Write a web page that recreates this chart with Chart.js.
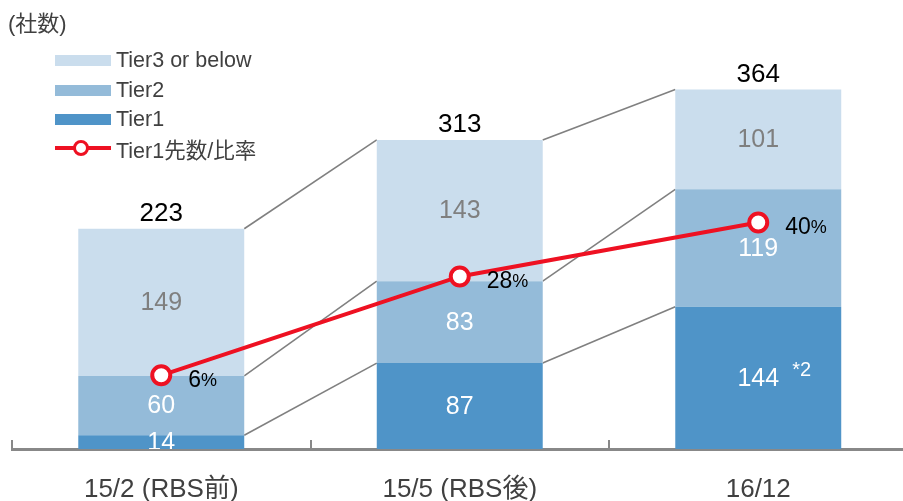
<!DOCTYPE html>
<html>
<head>
<meta charset="utf-8">
<script src="https://cdn.jsdelivr.net/npm/chart.js@4"></script>
<style>
html, body { margin: 0; padding: 0; overflow: hidden; background: #fff; }
body { font-family: "Liberation Sans", Arial, "Noto Sans CJK JP", sans-serif; }
#chart { position: absolute; left: 0; top: 0; }
#unit { position: absolute; left: 8px; top: 5px; font-size: 22px; color: #404040; }
.lg { position: absolute; left: 55px; height: 24px; display: flex; align-items: center; font-size: 21.5px; color: #404040; }
.sw { width: 56px; height: 11px; margin-right: 5px; }
.ln { width: 56px; height: 24px; margin-right: 5px; position: relative; }
.ln .bar { position: absolute; left: 0; right: 0; top: 10px; height: 4px; background: #ee1122; }
.ln .dot { position: absolute; left: 18px; top: 4px; width: 10px; height: 10px; border: 3px solid #ee1122; border-radius: 50%; background: #fff; }
</style>
</head>
<body>
<canvas id="chart" width="910" height="501"></canvas>
<div id="unit">(社数)</div>
<div class="lg" style="top:48px"><div class="sw" style="background:#cadded"></div>Tier3 or below</div>
<div class="lg" style="top:78px"><div class="sw" style="background:#94bbd9"></div>Tier2</div>
<div class="lg" style="top:107px"><div class="sw" style="background:#4f94c8"></div>Tier1</div>
<div class="lg" style="top:136px"><div class="ln"><div class="bar"></div><div class="dot"></div></div>Tier1先数/比率</div>
<script>
const categories = ['15/2 (RBS前)', '15/5 (RBS後)', '16/12'];
const tier1 = [14, 87, 144];
const tier2 = [60, 83, 119];
const tier3 = [149, 143, 101];
const totals = [223, 313, 364];
const tier1Ratio = [6, 28, 40];
const tier1Notes = ['', '', '*2'];

const FONT = '"Liberation Sans", Arial, "Noto Sans CJK JP", sans-serif';

// grey connectors between bars + small ticks on the axis
const connectors = {
  id: 'connectors',
  beforeDatasetsDraw(chart) {
    const ctx = chart.ctx;
    const stacks = [0, 1, 2].map(i => chart.getDatasetMeta(i).data);
    ctx.save();
    ctx.strokeStyle = '#808080';
    ctx.lineWidth = 1.6;
    for (let c = 0; c < categories.length - 1; c++) {
      stacks.forEach(bars => {
        const a = bars[c], b = bars[c + 1];
        ctx.beginPath();
        ctx.moveTo(a.x + a.width / 2, a.y);
        ctx.lineTo(b.x - b.width / 2, b.y);
        ctx.stroke();
      });
    }
    ctx.restore();
  },
  afterDraw(chart) {
    const ctx = chart.ctx, x = chart.scales.x, area = chart.chartArea;
    const half = (x.getPixelForValue(1) - x.getPixelForValue(0)) / 2;
    ctx.save();
    ctx.strokeStyle = '#888';
    ctx.lineWidth = 2;
    for (let i = 0; i < categories.length; i++) {
      const px = Math.round(x.getPixelForValue(i) - half);
      ctx.beginPath();
      ctx.moveTo(px, area.bottom - 9);
      ctx.lineTo(px, area.bottom);
      ctx.stroke();
    }
    ctx.restore();
  }
};

const labels = {
  id: 'labels',
  afterDatasetsDraw(chart) {
    const ctx = chart.ctx, area = chart.chartArea;
    ctx.save();
    ctx.beginPath();
    ctx.rect(area.left, 0, area.right - area.left, area.bottom);
    ctx.clip();
    ctx.textAlign = 'center';
    ctx.textBaseline = 'middle';
    ctx.font = '25px ' + FONT;
    const segColors = ['#ffffff', '#ffffff', '#7f7f7f'];
    [0, 1, 2].forEach(d => {
      const ds = chart.data.datasets[d];
      chart.getDatasetMeta(d).data.forEach((bar, i) => {
        ctx.fillStyle = segColors[d];
        ctx.fillText(String(ds.data[i]), bar.x, (bar.y + bar.base) / 2 + 1);
      });
    });
    // notes on tier1
    ctx.textAlign = 'left';
    ctx.font = '20px ' + FONT;
    ctx.fillStyle = '#ffffff';
    chart.getDatasetMeta(0).data.forEach((bar, i) => {
      if (tier1Notes[i]) ctx.fillText(tier1Notes[i], bar.x + 34, (bar.y + bar.base) / 2 - 7);
    });
    // totals
    ctx.textAlign = 'center';
    ctx.font = '26px ' + FONT;
    ctx.fillStyle = '#000';
    chart.getDatasetMeta(2).data.forEach((bar, i) => {
      ctx.fillText(String(totals[i]), bar.x, bar.y - 15);
    });
    // ratios
    ctx.textAlign = 'left';
    chart.getDatasetMeta(3).data.forEach((pt, i) => {
      const num = String(tier1Ratio[i]);
      ctx.font = '23px ' + FONT;
      const w = ctx.measureText(num).width;
      ctx.fillText(num, pt.x + 27, pt.y + 5);
      ctx.font = '18px ' + FONT;
      ctx.fillText('%', pt.x + 27 + w, pt.y + 6);
    });
    ctx.restore();
  }
};

new Chart(document.getElementById('chart'), {
  type: 'bar',
  data: {
    labels: categories,
    datasets: [
      { label: 'Tier1', data: tier1, backgroundColor: '#4f94c8', stack: 's', order: 1 },
      { label: 'Tier2', data: tier2, backgroundColor: '#94bbd9', stack: 's', order: 1 },
      { label: 'Tier3 or below', data: tier3, backgroundColor: '#cadded', stack: 's', order: 1 },
      {
        type: 'line', label: 'Tier1先数/比率', data: tier1Ratio, yAxisID: 'y2', order: 0,
        borderColor: '#ee1122', borderWidth: 4, pointRadius: 9, pointBorderWidth: 4,
        pointBackgroundColor: '#ffffff', pointBorderColor: '#ee1122', tension: 0
      }
    ]
  },
  options: {
    responsive: false,
    devicePixelRatio: 1,
    animation: false,
    layout: { autoPadding: false, padding: { left: 12, right: 2.5, top: 54, bottom: 0 } },
    datasets: { bar: { categoryPercentage: 1, barPercentage: 0.556 } },
    plugins: { legend: { display: false }, tooltip: { enabled: false } },
    scales: {
      x: {
        stacked: true,
        grid: { display: false, drawTicks: false },
        border: { display: true, color: '#888', width: 3 },
        ticks: { color: '#404040', font: { size: 26, family: FONT }, padding: 25 },
        afterFit(scale) {
          scale.height = 52;
          scale.paddingLeft = 0;
          scale.paddingRight = 0;
        }
      },
      y: { stacked: true, min: 0, max: 400, display: false },
      y2: { min: -10.4, max: 77.5, display: false }
    }
  },
  plugins: [connectors, labels]
});
</script>
</body>
</html>
